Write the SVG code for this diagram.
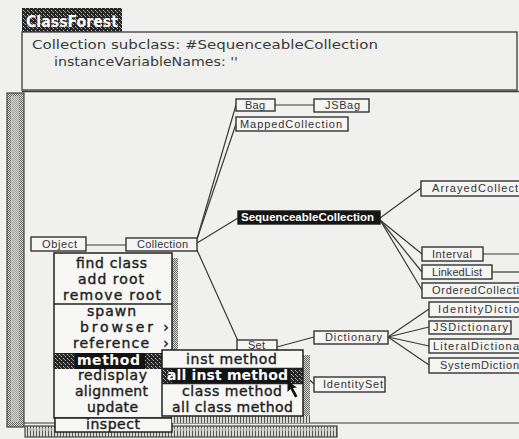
<svg xmlns="http://www.w3.org/2000/svg" width="519" height="439" viewBox="0 0 519 439">
  <defs>
    <!-- 50% gray dither used by scroll bars and menu shadows -->
    <pattern id="dither" width="2" height="2" patternUnits="userSpaceOnUse">
      <rect width="2" height="2" fill="#d4d4d2"/>
      <rect width="1" height="1" fill="#6a6a6a"/>
      <rect x="1" y="1" width="1" height="1" fill="#6a6a6a"/>
    </pattern>
    <!-- vertical hatch for the horizontal scroll bar -->
    <pattern id="hatch" width="3" height="4" patternUnits="userSpaceOnUse">
      <rect width="3" height="4" fill="#d8d8d6"/>
      <rect width="1" height="4" fill="#555"/>
    </pattern>
    <!-- dark speckle for title tab and highlighted menu edges -->
    <pattern id="speck" width="4" height="4" patternUnits="userSpaceOnUse">
      <rect width="4" height="4" fill="#262626"/>
      <rect x="1" y="0" width="1" height="1" fill="#aaa"/>
      <rect x="3" y="2" width="1" height="1" fill="#bbb"/>
      <rect x="0" y="3" width="1" height="1" fill="#888"/>
    </pattern>
    <style>
      .frame { fill: none; stroke: #3a3a3a; stroke-width: 1.3; }
      .node rect { fill: #f5f5f3; stroke: #333; stroke-width: 1.4; }
      .node text { font-family: "Liberation Sans", Arial, sans-serif; font-size: 11px; fill: #333; }
      .node.sel rect { fill: #161616; stroke: #161616; }
      .node.sel text { fill: #fff; font-weight: bold; }
      #connectors line { stroke: #3a3a3a; stroke-width: 1.2; }
      .code { font-family: "DejaVu Sans", "Liberation Sans", sans-serif; font-size: 13px; fill: #3a3a3a; }
      .menu rect.box { fill: #f7f7f5; stroke: #222; stroke-width: 1.5; }
      .menu line { stroke: #222; stroke-width: 1.4; }
      .menu text { font-family: "DejaVu Sans", "Liberation Sans", sans-serif; font-size: 14px; fill: #1e1e1e; stroke: #1e1e1e; stroke-width: 0.4; text-anchor: middle; }
      .menu text.hl { fill: #fff; stroke: #fff; font-weight: bold; stroke-width: 0; }
    </style>
  </defs>

  <!-- paper -->
  <rect width="519" height="439" fill="#f0f0ee"/>

  <!-- window title tab -->
  <g id="title">
    <rect x="22" y="8" width="100" height="24" fill="url(#speck)"/>
    <text x="72" y="27" font-family="'DejaVu Sans', sans-serif" font-size="15" font-weight="bold" fill="#fff" text-anchor="middle" textLength="92" lengthAdjust="spacingAndGlyphs">ClassForest</text>
  </g>

  <!-- class definition pane -->
  <g id="code-pane">
    <rect x="22" y="32" width="495" height="58" fill="#f3f3f1" class="frame"/>
    <text class="code" x="32" y="49" textLength="346" lengthAdjust="spacingAndGlyphs">Collection subclass: #SequenceableCollection</text>
    <text class="code" x="54" y="66" textLength="184" lengthAdjust="spacingAndGlyphs">instanceVariableNames: ''</text>
  </g>

  <!-- forest pane frame and scroll bars -->
  <g id="forest-frame">
    <line x1="22" y1="91.5" x2="519" y2="91.5" stroke="#3a3a3a" stroke-width="1.3"/>
    <line x1="24" y1="423" x2="519" y2="423" stroke="#3a3a3a" stroke-width="1.2"/>
    <rect x="7" y="93" width="17" height="334" fill="url(#dither)" stroke="#444" stroke-width="1.2"/>
    <rect x="11" y="96" width="8" height="326" fill="#cfcfcd" opacity="0.55"/>
    <rect x="25" y="426" width="312" height="11" fill="url(#hatch)" stroke="#444" stroke-width="1.2"/>
    <rect x="28" y="428" width="306" height="3" fill="#cfcfcd" opacity="0.6"/>
  </g>

  <!-- tree edges -->
  <g id="connectors">
    <line x1="86" y1="245" x2="126" y2="245"/>
    <line x1="197" y1="239" x2="236" y2="105"/>
    <line x1="197" y1="239" x2="236" y2="124"/>
    <line x1="197" y1="243" x2="238" y2="218"/>
    <line x1="197" y1="250" x2="238" y2="341"/>
    <line x1="275" y1="105" x2="314" y2="105"/>
    <line x1="380" y1="218" x2="421" y2="188"/>
    <line x1="380" y1="220" x2="422" y2="254"/>
    <line x1="380" y1="220" x2="422" y2="272"/>
    <line x1="380" y1="220" x2="422" y2="290"/>
    <line x1="483" y1="254" x2="519" y2="254"/>
    <line x1="492" y1="272" x2="519" y2="272"/>
    <line x1="277" y1="347" x2="314" y2="337"/>
    <line x1="277" y1="349" x2="314" y2="384"/>
    <line x1="388" y1="337" x2="429" y2="309"/>
    <line x1="388" y1="337" x2="429" y2="327"/>
    <line x1="388" y1="337" x2="429" y2="346"/>
    <line x1="388" y1="337" x2="429" y2="365"/>
  </g>

  <!-- class nodes -->
  <g id="node-object" class="node"><rect x="31" y="237" width="55" height="14"/><text x="42" y="248" textLength="35">Object</text></g>
  <g id="node-collection" class="node"><rect x="126" y="238" width="71" height="13"/><text x="137" y="248" textLength="51">Collection</text></g>
  <g id="node-bag" class="node"><rect x="236" y="99" width="39" height="12"/><text x="245" y="109" textLength="20">Bag</text></g>
  <g id="node-jsbag" class="node"><rect x="314" y="99" width="55" height="13"/><text x="325" y="109" textLength="35">JSBag</text></g>
  <g id="node-mappedcollection" class="node"><rect x="236" y="117" width="112" height="14"/><text x="240" y="128" textLength="102">MappedCollection</text></g>
  <g id="node-sequenceablecollection" class="node sel"><rect x="238" y="211" width="142" height="13"/><text x="241" y="221" textLength="133" lengthAdjust="spacingAndGlyphs">SequenceableCollection</text></g>
  <g id="node-arrayedcollection" class="node"><rect x="421" y="181" width="110" height="15"/><text x="432" y="192" textLength="86">ArrayedCollect</text></g>
  <g id="node-interval" class="node"><rect x="422" y="247" width="61" height="14"/><text x="432" y="258" textLength="40">Interval</text></g>
  <g id="node-linkedlist" class="node"><rect x="422" y="265" width="70" height="14"/><text x="432" y="276" textLength="50">LinkedList</text></g>
  <g id="node-orderedcollection" class="node"><rect x="422" y="283" width="110" height="15"/><text x="432" y="294" textLength="87">OrderedCollecti</text></g>
  <g id="node-set" class="node"><rect x="237" y="340" width="40" height="14"/><text x="248" y="349" font-size="10" textLength="17">Set</text></g>
  <g id="node-dictionary" class="node"><rect x="314" y="331" width="74" height="13"/><text x="325" y="341" textLength="57">Dictionary</text></g>
  <g id="node-identityset" class="node"><rect x="314" y="377" width="71" height="15"/><text x="323" y="388" textLength="60">IdentitySet</text></g>
  <g id="node-identitydictionary" class="node"><rect x="429" y="302" width="100" height="15"/><text x="438" y="313" textLength="81">IdentityDictio</text></g>
  <g id="node-jsdictionary" class="node"><rect x="429" y="321" width="82" height="13"/><text x="433" y="331" textLength="75">JSDictionary</text></g>
  <g id="node-literaldictionary" class="node"><rect x="429" y="339" width="100" height="14"/><text x="433" y="350" textLength="86">LiteralDictiona</text></g>
  <g id="node-systemdictionary" class="node"><rect x="429" y="358" width="100" height="15"/><text x="440" y="369" textLength="79">SystemDiction</text></g>

  <!-- pop-up menu -->
  <g id="menu" class="menu">
    <rect x="172" y="258" width="6" height="94" fill="url(#dither)"/>
    <rect class="box" x="54" y="253" width="118" height="165"/>
    <text x="111.5" y="268" textLength="71">find class</text>
    <text x="111" y="284" textLength="66">add root</text>
    <text x="112" y="300" textLength="98">remove root</text>
    <line x1="54" y1="304" x2="172" y2="304"/>
    <text x="111.5" y="316" textLength="49">spawn</text>
    <text x="116.5" y="332" textLength="73">browser</text>
    <text x="111" y="348" textLength="76">reference</text>
    <text x="166" y="332" font-size="11">›</text>
    <text x="166" y="348" font-size="11">›</text>
    <rect x="54" y="353" width="118" height="16" fill="#141414"/>
    <rect x="54" y="353" width="21" height="16" fill="url(#speck)"/>
    <rect x="145" y="353" width="16" height="16" fill="url(#speck)"/>
    <text class="hl" x="108.5" y="365" textLength="63">method</text>
    <text x="112.5" y="380" textLength="69">redisplay</text>
    <text x="111.5" y="396" textLength="73">alignment</text>
    <text x="112.5" y="412" textLength="51">update</text>
    <rect class="box" x="55" y="418" width="117" height="14"/>
    <text x="113" y="429" textLength="54">inspect</text>
  </g>

  <!-- method submenu -->
  <g id="submenu" class="menu">
    <rect x="303" y="355" width="7" height="66" fill="url(#dither)"/>
    <rect x="172" y="416" width="138" height="7" fill="url(#hatch)"/>
    <rect class="box" x="162" y="350" width="141" height="66"/>
    <text x="231.5" y="364" textLength="91">inst method</text>
    <line x1="162" y1="368.5" x2="303" y2="368.5"/>
    <rect x="162" y="369" width="141" height="14" fill="#141414"/>
    <rect x="162" y="369" width="10" height="14" fill="url(#speck)"/>
    <rect x="290" y="369" width="13" height="14" fill="url(#speck)"/>
    <text class="hl" x="227.5" y="380" textLength="121">all inst method</text>
    <line x1="162" y1="383.5" x2="303" y2="383.5"/>
    <text x="232" y="396" textLength="100">class method</text>
    <text x="232.5" y="412" textLength="121">all class method</text>
  </g>

  <!-- mouse pointer -->
  <path id="pointer" d="M287.5,381 L287.5,392 L290.5,389 L295,397.5 L297.5,396.3 L293,388 L297,387.5 Z" fill="#111"/>
</svg>
